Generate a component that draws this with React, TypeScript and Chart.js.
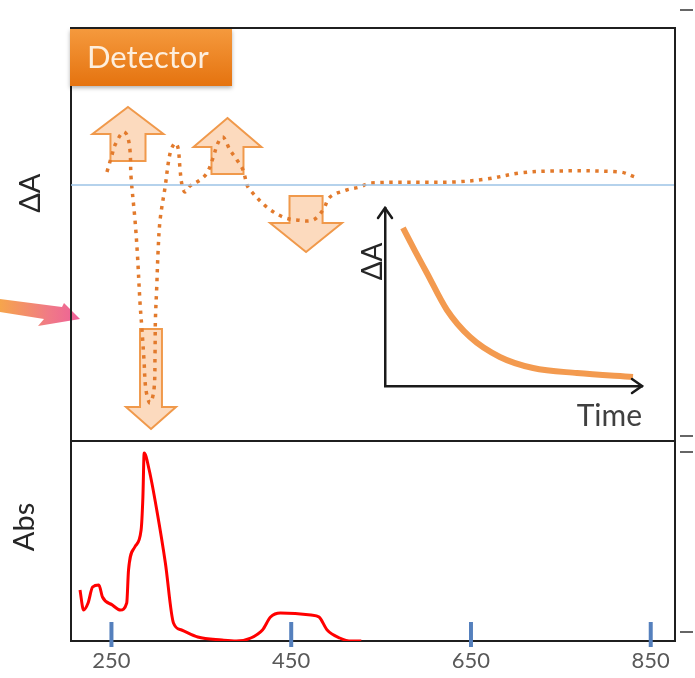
import React, { useEffect, useRef } from 'react';
import { Chart, registerables } from 'chart.js';

Chart.register(...registerables);

const FONT = "Lato, 'Open Sans', sans-serif";

// ---- main chart: wavelength axis ----
const xRange = [205, 877];
const xTickValues = [250, 450, 650, 850];
const xTickLabels = ['250', '450', '650', '850'];

// ΔA (transient absorption, dotted) vs wavelength
const deltaWavelength = [
  245, 250.6, 254, 262.9, 267.3, 270.6, 271.8, 276.2, 278.8, 281.8, 284, 286.2, 288.4,
  292.9, 297.3, 298.5, 298.9, 300.4, 301.8, 304.1, 309.7, 315.3, 320.8, 324.1, 326.4,
  328.5, 331.8, 337.4, 348.5, 356.3, 363, 368.5, 374.1, 381.9, 389.7, 396.4, 400.8,
  404.2, 422.7, 440.9, 456.1, 474.2, 485.4, 493.2, 511.7, 526.5, 537.7, 630, 667.8,
  704.6, 741.3, 815.8, 832.5,
];
const deltaValues = [
  0.13, 0.3, 0.4, 0.53, 0.5, 0.35, 0.08, -0.35, -0.68, -1.18, -1.45, -1.75, -2.05,
  -2.18, -2.05, -1.68, -1.35, -1.02, -0.68, -0.35, -0.02, 0.32, 0.42, 0.37, 0.15,
  0.0, -0.07, -0.01, 0.05, 0.12, 0.27, 0.42, 0.48, 0.35, 0.25, 0.15, 0.0,
  -0.05, -0.22, -0.32, -0.35, -0.35, -0.25, -0.12, -0.05, -0.02, 0.02, 0.03, 0.06,
  0.12, 0.14, 0.13, 0.08,
];

// zero line of ΔA
const baselineWavelength = [205, 877];
const baselineValues = [0, 0];

// Steady-state absorption spectrum
const absWavelength = [
  215, 219, 224, 229, 236, 240, 251, 260, 267, 269, 276, 283, 285, 286.4, 292, 301,
  310, 319, 328, 346, 373, 389, 405, 418, 427, 438, 472, 481, 490, 504, 517, 528,
];
const absValues = [
  0.255, 0.155, 0.19, 0.27, 0.28, 0.22, 0.18, 0.155, 0.19, 0.355, 0.47, 0.555, 0.72,
  0.94, 0.855, 0.64, 0.39, 0.09, 0.055, 0.02, 0.005, 0, 0.015, 0.055, 0.12, 0.14,
  0.13, 0.12, 0.055, 0.015, 0, 0,
];

// block-arrow annotations (wavelength / ΔA units)
const arrowCenter = [268.4, 379.1, 466.5, 294.0];
const arrowTip = [0.78, 0.67, -0.67, -2.44];
const arrowNeck = [0.51, 0.38, -0.38, -2.22];
const arrowTail = [0.24, 0.11, -0.11, -1.44];
const arrowHeadHalf = [39.5, 37.8, 40.0, 27.8];
const arrowShaftHalf = [19.5, 17.8, 18.4, 12.2];

// ---- inset: ΔA decay vs time ----
const insetTime = [0.7, 1.17, 1.63, 2.41, 3.31, 4.47, 5.76, 7.47, 9.65];
const insetDelta = [0.888, 0.758, 0.635, 0.427, 0.275, 0.163, 0.101, 0.073, 0.051];

const pts = (xs: number[], ys: number[]) => xs.map((x, i) => ({ x, y: ys[i] }));

function rotatedText(ctx: CanvasRenderingContext2D, text: string, x: number, y: number, size: number, color: string) {
  ctx.save();
  ctx.translate(x, y);
  ctx.rotate(-Math.PI / 2);
  ctx.font = `${size}px ${FONT}`;
  ctx.fillStyle = color;
  ctx.textAlign = 'center';
  ctx.textBaseline = 'middle';
  ctx.fillText(text, 0, 0);
  ctx.restore();
}

const mainDecor = {
  id: 'mainDecor',
  beforeDraw(chart: any) {
    const { ctx, chartArea: a } = chart;
    // incoming pink arrow at the left
    const L = a.left, T = a.top;
    ctx.save();
    const g = ctx.createLinearGradient(0, 0, L + 10, 0);
    g.addColorStop(0, '#f6a54c');
    g.addColorStop(0.6, '#f07a86');
    g.addColorStop(1, '#ee5f9a');
    ctx.fillStyle = g;
    ctx.beginPath();
    ctx.moveTo(0, T + 271);
    ctx.lineTo(L - 9, T + 279);
    ctx.lineTo(L - 7, T + 275);
    ctx.lineTo(L + 9, T + 291);
    ctx.lineTo(L - 33, T + 298);
    ctx.lineTo(L - 27, T + 291);
    ctx.lineTo(0, T + 284);
    ctx.closePath();
    ctx.fill();
    ctx.restore();
  },
  beforeDatasetsDraw(chart: any) {
    const { ctx } = chart;
    const xs = chart.scales.x, ys = chart.scales.yTop;
    ctx.save();
    for (let i = 0; i < arrowCenter.length; i++) {
      const cx = xs.getPixelForValue(arrowCenter[i]);
      const hh = xs.getPixelForValue(arrowCenter[i] + arrowHeadHalf[i]) - cx;
      const sh = xs.getPixelForValue(arrowCenter[i] + arrowShaftHalf[i]) - cx;
      const tip = ys.getPixelForValue(arrowTip[i]);
      const neck = ys.getPixelForValue(arrowNeck[i]);
      const tail = ys.getPixelForValue(arrowTail[i]);
      ctx.beginPath();
      ctx.moveTo(cx, tip);
      ctx.lineTo(cx + hh, neck);
      ctx.lineTo(cx + sh, neck);
      ctx.lineTo(cx + sh, tail);
      ctx.lineTo(cx - sh, tail);
      ctx.lineTo(cx - sh, neck);
      ctx.lineTo(cx - hh, neck);
      ctx.closePath();
      ctx.fillStyle = 'rgba(250, 196, 150, 0.62)';
      ctx.fill();
      ctx.lineWidth = 2;
      ctx.lineJoin = 'miter';
      ctx.strokeStyle = '#f0994b';
      ctx.stroke();
    }
    ctx.restore();
  },
  afterDatasetsDraw(chart: any) {
    const { ctx, chartArea: a } = chart;
    const xs = chart.scales.x, yTop = chart.scales.yTop, yBot = chart.scales.yBot;
    ctx.save();
    // frame and panel divider
    ctx.strokeStyle = '#1f1f1f';
    ctx.lineWidth = 2;
    ctx.beginPath();
    ctx.moveTo(a.left, a.top);
    ctx.lineTo(a.right, a.top);
    ctx.lineTo(a.right, a.bottom);
    ctx.moveTo(a.left, yTop.bottom);
    ctx.lineTo(a.right, yTop.bottom);
    ctx.stroke();

    // blue tick marks on the wavelength axis
    ctx.strokeStyle = '#5580bd';
    ctx.lineWidth = 4;
    xs.ticks.forEach((t: any) => {
      const px = xs.getPixelForValue(t.value);
      ctx.beginPath();
      ctx.moveTo(px, a.bottom - 19);
      ctx.lineTo(px, a.bottom + 6);
      ctx.stroke();
    });

    // small marks at right edge
    ctx.strokeStyle = '#333';
    ctx.lineWidth = 1.5;
    [a.top - 18, yTop.bottom - 5, yTop.bottom + 11, a.bottom - 9].forEach((y) => {
      ctx.beginPath();
      ctx.moveTo(a.right + 5, y);
      ctx.lineTo(a.right + 18, y);
      ctx.stroke();
    });

    // Detector label box
    ctx.save();
    ctx.shadowColor = 'rgba(0,0,0,0.3)';
    ctx.shadowBlur = 4;
    ctx.shadowOffsetY = 2;
    const bg = ctx.createLinearGradient(0, a.top, 0, a.top + 58);
    bg.addColorStop(0, '#f59a3e');
    bg.addColorStop(1, '#e5730f');
    ctx.fillStyle = bg;
    ctx.fillRect(a.left - 1, a.top + 1, 162, 57);
    ctx.restore();
    ctx.font = `31px ${FONT}`;
    ctx.fillStyle = '#fdeedd';
    ctx.textAlign = 'left';
    ctx.textBaseline = 'middle';
    ctx.fillText('Detector', a.left + 16, a.top + 30);

    // axis titles
    rotatedText(ctx, 'ΔA', a.left - 40, yTop.top + 0.4 * (yTop.bottom - yTop.top), 29, '#262626');
    rotatedText(ctx, 'Abs', a.left - 46, yBot.top + 0.43 * (yBot.bottom - yBot.top), 29, '#262626');
    ctx.restore();
  },
};

const insetDecor = {
  id: 'insetDecor',
  afterDraw(chart: any) {
    const { ctx, chartArea: a } = chart;
    ctx.save();
    ctx.strokeStyle = '#1a1a1a';
    ctx.lineWidth = 2.5;
    ctx.lineCap = 'round';
    ctx.lineJoin = 'miter';
    ctx.beginPath();
    ctx.moveTo(a.right - 10, a.bottom - 7);
    ctx.lineTo(a.right, a.bottom);
    ctx.lineTo(a.right - 10, a.bottom + 7);
    ctx.moveTo(a.left - 7, a.top + 10);
    ctx.lineTo(a.left, a.top);
    ctx.lineTo(a.left + 7, a.top + 10);
    ctx.stroke();
    rotatedText(ctx, 'ΔA', a.left - 12, a.top + 0.3 * (a.bottom - a.top), 28, '#262626');
    ctx.restore();
  },
};

export default function App() {
  const mainRef = useRef<HTMLCanvasElement>(null);
  const insetRef = useRef<HTMLCanvasElement>(null);

  useEffect(() => {
    if (!mainRef.current || !insetRef.current) return;
    const main = new Chart(mainRef.current, {
      type: 'line',
      data: {
        datasets: [
          {
            label: 'baseline',
            data: pts(baselineWavelength, baselineValues),
            yAxisID: 'yTop',
            borderColor: '#9dc3e6',
            borderWidth: 1.5,
            pointRadius: 0,
          },
          {
            label: 'ΔA',
            data: pts(deltaWavelength, deltaValues),
            yAxisID: 'yTop',
            borderColor: '#e27a2c',
            borderWidth: 3.5,
            borderDash: [3.5, 5.5],
            borderCapStyle: 'butt',
            tension: 0.35,
            pointRadius: 0,
          },
          {
            label: 'Abs',
            data: pts(absWavelength, absValues),
            yAxisID: 'yBot',
            borderColor: '#ff0000',
            borderWidth: 3,
            cubicInterpolationMode: 'monotone',
            pointRadius: 0,
          },
        ],
      },
      options: {
        animation: false,
        responsive: false,
        devicePixelRatio: 1,
        parsing: true,
        layout: { padding: { top: 28, right: 20, left: 0, bottom: 0 } },
        plugins: { legend: { display: false }, tooltip: { enabled: false } },
        scales: {
          x: {
            type: 'linear',
            position: 'bottom',
            min: xRange[0],
            max: xRange[1],
            afterBuildTicks: (s: any) => {
              s.ticks = xTickValues.map((v) => ({ value: v }));
            },
            ticks: {
              callback: (v: any) => xTickLabels[xTickValues.indexOf(Number(v))],
              font: { family: FONT, size: 22 },
              color: '#595959',
              padding: 7,
              maxRotation: 0,
              autoSkip: false,
            },
            grid: { display: false, drawTicks: false },
            border: { display: true, color: '#1f1f1f', width: 2 },
            afterFit: (s: any) => {
              s.height = 37;
            },
          },
          yTop: {
            type: 'linear',
            position: 'left',
            stack: 'panels',
            stackWeight: 413,
            weight: 2,
            min: -2.56,
            max: 1.57,
            ticks: { display: false },
            grid: { display: false, drawTicks: false },
            border: { display: true, color: '#1f1f1f', width: 2 },
            afterFit: (s: any) => {
              s.width = 71;
            },
          },
          yBot: {
            type: 'linear',
            position: 'left',
            stack: 'panels',
            stackWeight: 200,
            weight: 1,
            min: 0,
            max: 1,
            ticks: { display: false },
            grid: { display: false, drawTicks: false },
            border: { display: true, color: '#1f1f1f', width: 2 },
            afterFit: (s: any) => {
              s.width = 71;
            },
          },
        },
      } as any,
      plugins: [mainDecor],
    });

    const inset = new Chart(insetRef.current, {
      type: 'line',
      data: {
        datasets: [
          {
            label: 'decay',
            data: pts(insetTime, insetDelta),
            borderColor: '#f39a4f',
            borderWidth: 6,
            cubicInterpolationMode: 'monotone',
            pointRadius: 0,
          },
        ],
      },
      options: {
        animation: false,
        responsive: false,
        devicePixelRatio: 1,
        layout: { padding: { top: 10, right: 28, left: 0, bottom: 0 } },
        plugins: { legend: { display: false }, tooltip: { enabled: false } },
        scales: {
          x: {
            type: 'linear',
            min: 0,
            max: 10,
            ticks: { display: false },
            grid: { display: false, drawTicks: false },
            border: { display: true, color: '#1a1a1a', width: 2.5 },
            title: {
              display: true,
              text: 'Time',
              align: 'end',
              color: '#404040',
              font: { family: FONT, size: 30 },
              padding: { top: 0, bottom: 4 },
            },
            afterFit: (s: any) => {
              s.height = 52;
            },
          },
          y: {
            type: 'linear',
            min: 0,
            max: 1,
            ticks: { display: false },
            grid: { display: false, drawTicks: false },
            border: { display: true, color: '#1a1a1a', width: 2.5 },
            afterFit: (s: any) => {
              s.width = 35;
            },
          },
        },
      } as any,
      plugins: [insetDecor],
    });

    return () => {
      main.destroy();
      inset.destroy();
    };
  }, []);

  return (
    <div style={{ position: 'fixed', left: 0, top: 0, width: 695, height: 678, background: '#ffffff', overflow: 'hidden' }}>
      <canvas ref={mainRef} width={695} height={678} style={{ position: 'absolute', left: 0, top: 0 }} />
      <canvas ref={insetRef} width={320} height={240} style={{ position: 'absolute', left: 350, top: 198 }} />
    </div>
  );
}
